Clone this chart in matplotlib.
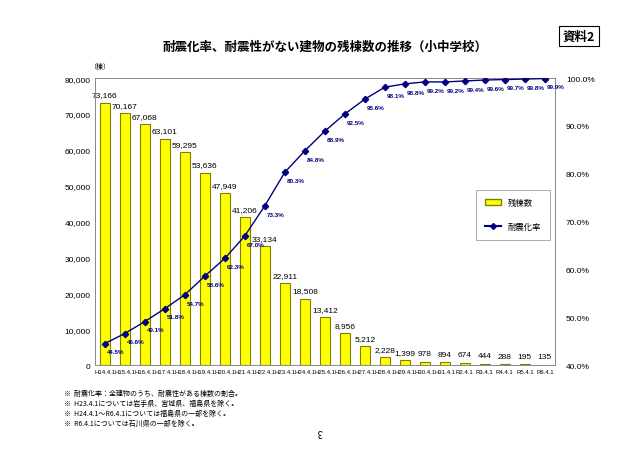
import matplotlib
matplotlib.use("Agg")
import matplotlib.pyplot as plt
import numpy as np
from matplotlib.lines import Line2D
from matplotlib.patches import Patch

plt.rcParams['font.family'] = ['Noto Sans CJK JP', 'DejaVu Sans']

labels = ["H14.4.1", "H15.4.1", "H16.4.1", "H17.4.1", "H18.4.1", "H19.4.1",
          "H20.4.1", "H21.4.1", "H22.4.1", "H23.4.1", "H24.4.1", "H25.4.1",
          "H26.4.1", "H27.4.1", "H28.4.1", "H29.4.1", "H30.4.1", "H31.4.1",
          "R2.4.1", "R3.4.1", "R4.4.1", "R5.4.1", "R6.4.1"]
remaining = [73166, 70167, 67068, 63101, 59295, 53636, 47949, 41206, 33134,
             22911, 18508, 13412, 8956, 5212, 2228, 1399, 978, 894, 674,
             444, 288, 195, 135]
rate = [44.5, 46.6, 49.1, 51.8, 54.7, 58.6, 62.3, 67.0, 73.3, 80.3, 84.8,
        88.9, 92.5, 95.6, 98.1, 98.8, 99.2, 99.2, 99.4, 99.6, 99.7, 99.8, 99.9]
notes = ["※  耐震化率：全建物のうち、耐震性がある棟数の割合。",
         "※  H23.4.1については岩手県、宮城県、福島県を除く。",
         "※  H24.4.1～R6.4.1については福島県の一部を除く。",
         "※  R6.4.1については石川県の一部を除く。"]

navy = "#000080"
fig = plt.figure(figsize=(6.4, 4.52), dpi=100)
ax = fig.add_axes([0.148, 0.19, 0.719, 0.635])
x = np.arange(len(labels))

ax.bar(x, remaining, width=0.52, color="#FFFF00", edgecolor="#808000", linewidth=0.8, zorder=2)
for xi, v in zip(x, remaining):
    ax.text(xi, v + 1200, f"{v:,}", ha="center", va="bottom", fontsize=6, family="Liberation Sans")

ax.set_xlim(-0.5, len(labels) - 0.5)
ax.set_ylim(0, 80000)
ax.set_yticks(np.arange(0, 80001, 10000))
ax.set_yticklabels([f"{v:,}" for v in range(0, 80001, 10000)], fontsize=6, family="Liberation Sans")
ax.set_xticks(x)
ax.set_xticklabels(labels, fontsize=4.3, family="Liberation Sans")
ax.tick_params(length=0, pad=3)
for s in ["top", "right", "left", "bottom"]:
    ax.spines[s].set_color("#888888")
    ax.spines[s].set_linewidth(0.6)

ax2 = ax.twinx()
ax2.plot(x, rate, color=navy, marker="D", markersize=3.2, linewidth=1.0, zorder=3)
for xi, r in zip(x, rate):
    ax2.text(xi + 0.1, r - 1.2, f"{r:.1f}%", ha="left", va="top", fontsize=4.5,
             color=navy, fontweight="bold", family="Liberation Sans")
ax2.set_ylim(40, 100)
ax2.set_yticks(np.arange(40, 101, 10))
ax2.set_yticklabels([f"{v:.1f}%" for v in range(40, 101, 10)], fontsize=6, family="Liberation Sans")
ax2.tick_params(length=0, pad=8)
for s in ["top", "right", "left", "bottom"]:
    ax2.spines[s].set_color("#888888")
    ax2.spines[s].set_linewidth(0.6)

handles = [Patch(facecolor="#FFFF00", edgecolor="#808000", label="残棟数"),
           Line2D([0], [0], color=navy, marker="D", markersize=3, label="耐震化率")]
leg = ax2.legend(handles=handles, loc="upper left", bbox_to_anchor=(0.82, 0.625),
                 fontsize=6, frameon=True, fancybox=False, labelspacing=1.8,
                 handlelength=2.0, borderpad=1.0, edgecolor="#888888")
leg.get_frame().set_linewidth(0.6)

fig.text(0.508, 0.895, "耐震化率、耐震性がない建物の残棟数の推移（小中学校）",
         ha="center", va="center", fontsize=9, fontweight="bold")
fig.text(0.905, 0.918, "資料2", ha="center", va="center", fontsize=9, fontweight="bold",
         bbox=dict(boxstyle="square,pad=0.3", facecolor="white", edgecolor="black", linewidth=0.8))
fig.text(0.155, 0.852, "（棟）", ha="center", va="center", fontsize=5)

for i, n in enumerate(notes):
    fig.text(0.10, 0.128 - i * 0.022, n, ha="left", va="center", fontsize=5)
fig.text(0.5, 0.045, "3", ha="center", va="center", fontsize=7, rotation=180)

fig.savefig("out.png", dpi=100)
